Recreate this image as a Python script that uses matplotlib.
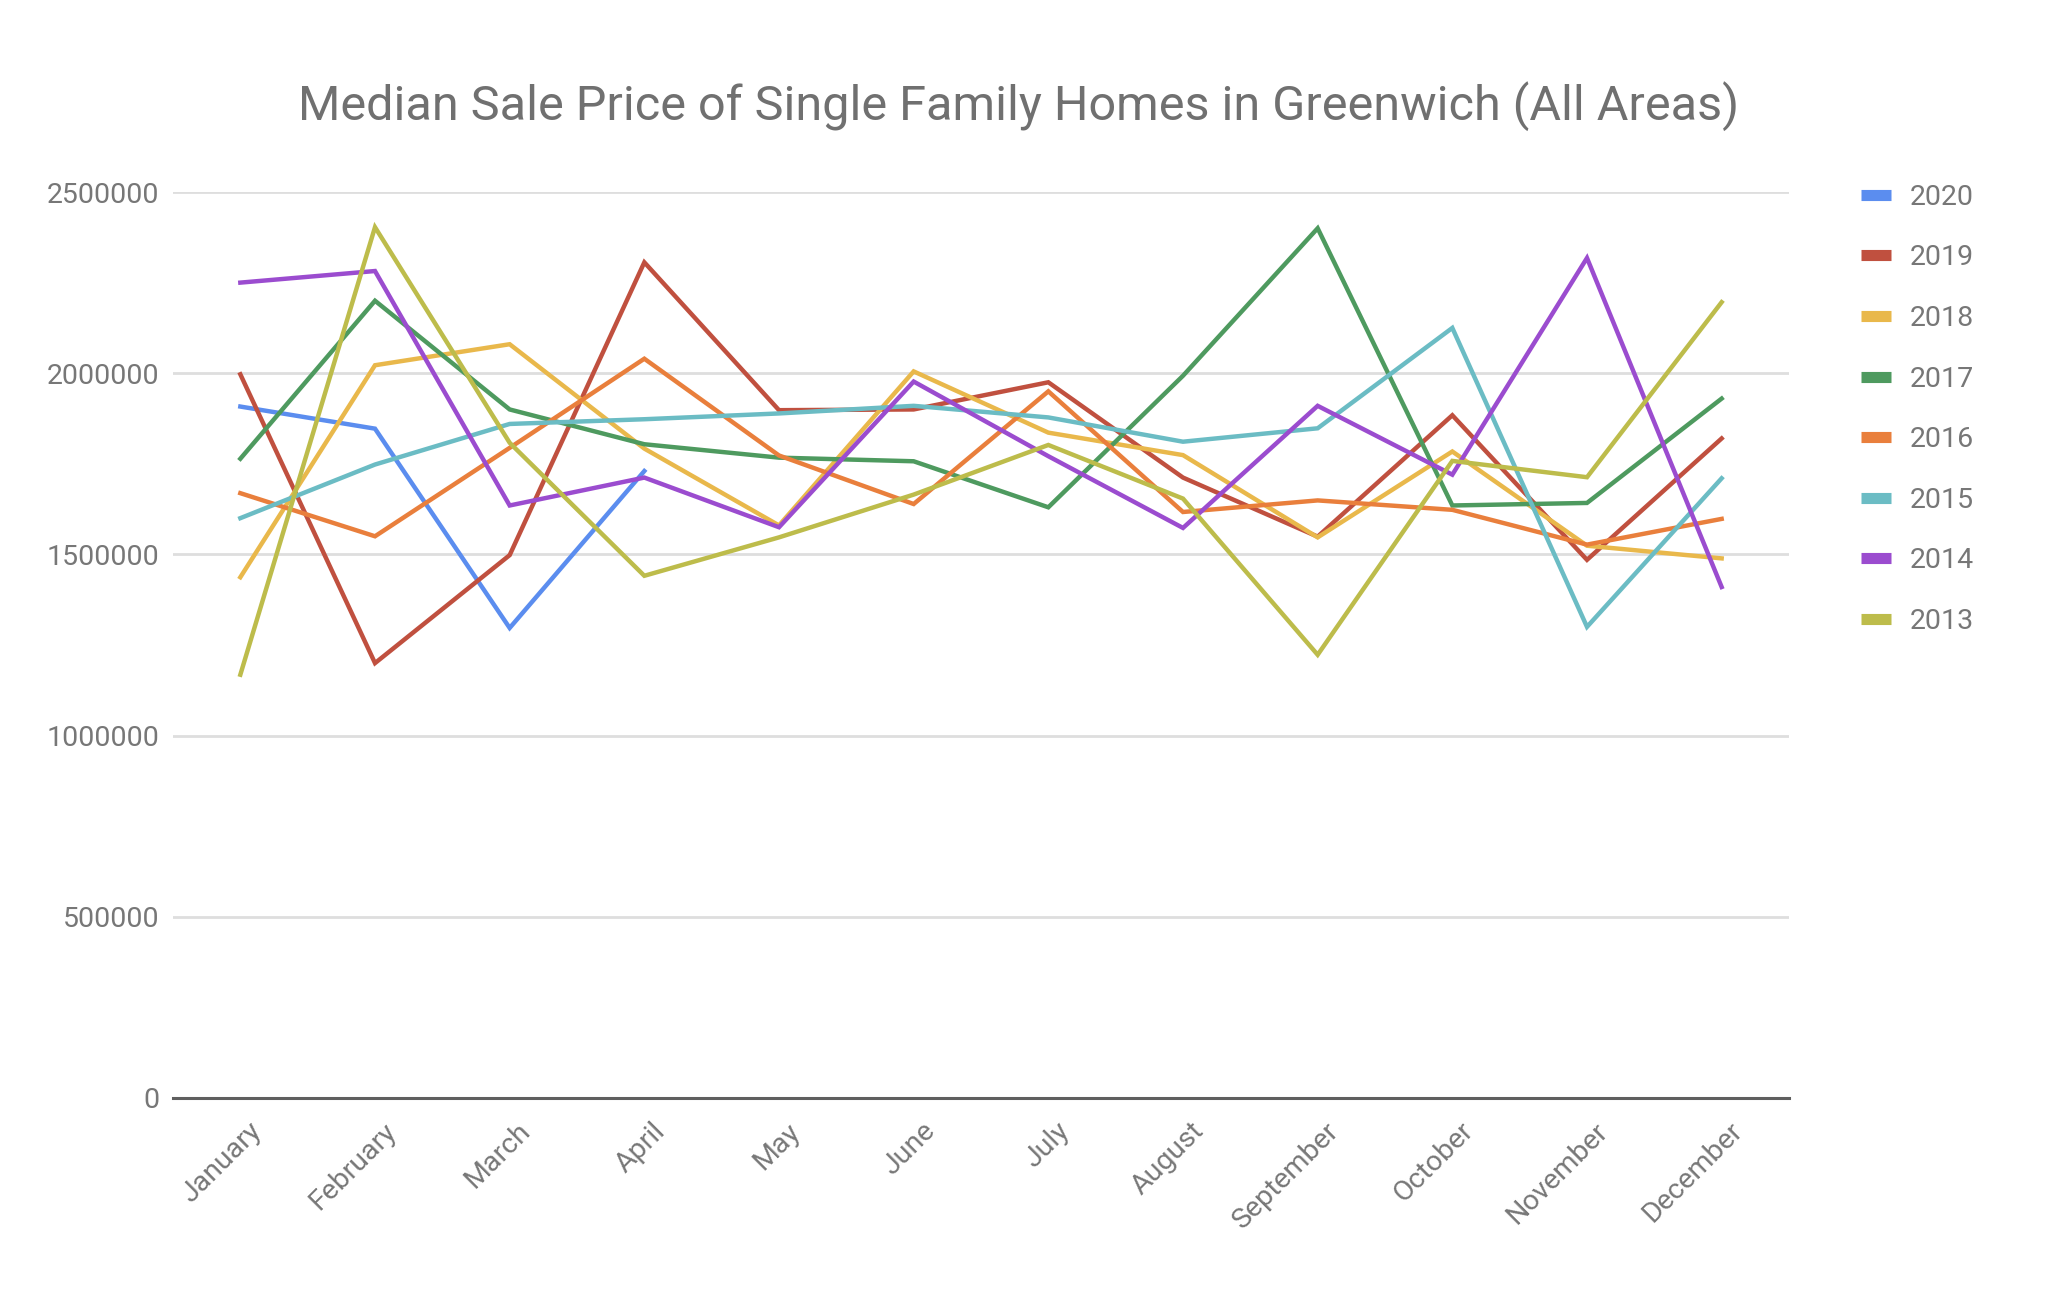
import numpy as np
import matplotlib.pyplot as plt
import matplotlib.transforms as mtransforms
from matplotlib.lines import Line2D

# Median sale price, single family homes, Greenwich (all areas)
months = ['January', 'February', 'March', 'April', 'May', 'June', 'July',
          'August', 'September', 'October', 'November', 'December']

y2020 = [1908000, 1847000, 1297000, 1730000]
y2019 = [1997000, 1200000, 1498000, 2306000, 1898000, 1900000, 1975000,
         1712000, 1549000, 1884000, 1485000, 1820000]
y2018 = [1437000, 2022000, 2080000, 1792000, 1580000, 2005000, 1836000,
         1774000, 1547000, 1784000, 1524000, 1489000]
y2017 = [1764000, 2200000, 1900000, 1804000, 1767000, 1757000, 1630000,
         1993000, 2400000, 1635000, 1642000, 1930000]
y2016 = [1669000, 1550000, 1794000, 2040000, 1773000, 1639000, 1950000,
         1617000, 1649000, 1623000, 1527000, 1598000]
y2015 = [1600000, 1748000, 1860000, 1873000, 1889000, 1910000, 1878000,
         1811000, 1848000, 2125000, 1300000, 1710000]
y2014 = [2250000, 2282000, 1635000, 1712000, 1575000, 1977000, 1771000,
         1573000, 1910000, 1720000, 2318000, 1410000]
y2013 = [1168000, 2403000, 1808000, 1441000, 1547000, 1665000, 1802000,
         1654000, 1223000, 1758000, 1713000, 2196000]

years = ['2020', '2019', '2018', '2017', '2016', '2015', '2014', '2013']
series = [y2020, y2019, y2018, y2017, y2016, y2015, y2014, y2013]
colors = ['#5b8def', '#c0503f', '#e9b84b', '#4e9a5f', '#e97f3c',
          '#6bbcc4', '#9b4ccf', '#bdbc4b']

plt.rcParams['font.family'] = ['Roboto', 'DejaVu Sans']

fig = plt.figure(figsize=(20.62, 12.94), dpi=100)
ax = fig.add_axes([0.0839, 0.1515, 0.7837, 0.7001])

x = np.arange(len(months))
for vals, c, lab in zip(series, colors, years):
    ax.plot(x[:len(vals)], vals, color=c, lw=3.2, label=lab,
            solid_joinstyle='miter')

ax.set_xlim(-0.5, 11.5)
ax.set_ylim(0, 2500000)
ax.set_yticks([0, 500000, 1000000, 1500000, 2000000, 2500000])
ax.set_yticklabels(['0', '500000', '1000000', '1500000', '2000000', '2500000'])
ax.set_xticks(x)
ax.set_xticklabels([])

# month labels, rotated and nudged like the original
shift = mtransforms.ScaledTranslation(0.17, -0.29, fig.dpi_scale_trans)
for i, m in enumerate(months):
    ax.text(i, 0, m, transform=ax.get_xaxis_transform() + shift,
            rotation=45, ha='right', va='center', rotation_mode='anchor',
            fontsize=20.5, color='#777777')

ax.grid(axis='y', color='#dedede', lw=2)
ax.set_axisbelow(True)
for s in ['top', 'right', 'left']:
    ax.spines[s].set_visible(False)
ax.spines['bottom'].set_color('#5f5f5f')
ax.spines['bottom'].set_linewidth(2.2)
ax.tick_params(axis='both', length=0, labelsize=20.5, colors='#777777')
ax.tick_params(axis='y', pad=10)

fig.text(0.494, 0.918, 'Median Sale Price of Single Family Homes in Greenwich (All Areas)',
         ha='center', va='center', fontsize=35, color='#707070')

handles = [Line2D([0], [0], color=c, lw=8, solid_capstyle='butt') for c in colors]
fig.legend(handles, years, loc='upper left', bbox_to_anchor=(0.9027, 0.858),
           frameon=False, fontsize=20.5, labelcolor='#777777',
           handlelength=1.05, handletextpad=0.65, labelspacing=1.18,
           borderpad=0, borderaxespad=0)

fig.savefig('out.png', dpi=100, facecolor='white')
